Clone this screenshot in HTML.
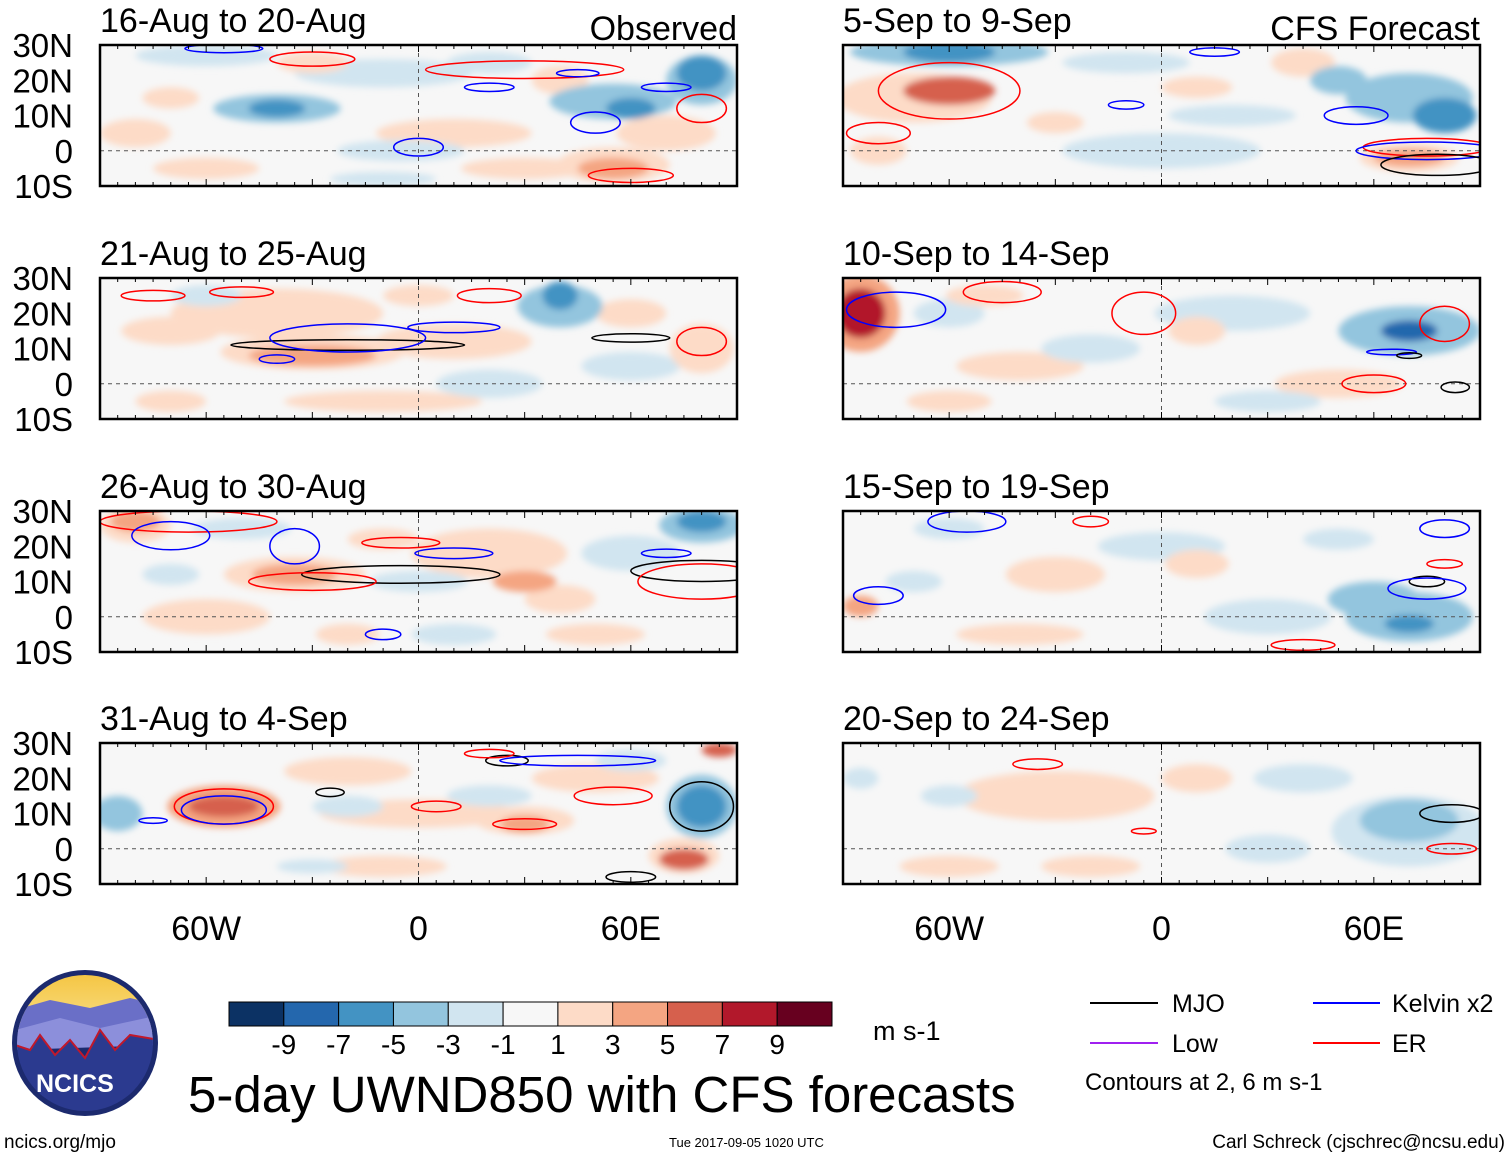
<!DOCTYPE html>
<html><head><meta charset="utf-8"><style>
body{margin:0;background:#fff;}
svg text{font-family:"Liberation Sans",sans-serif;fill:#000;}
</style></head><body>
<svg id="fig" width="1510" height="1158" viewBox="0 0 1510 1158" xmlns="http://www.w3.org/2000/svg">
<defs>
<filter id="soft" x="-50%" y="-50%" width="200%" height="200%"><feGaussianBlur stdDeviation="3.5"/></filter>
<clipPath id="cl"><rect x="0" y="0" width="637" height="141"/></clipPath>
<linearGradient id="sky" x1="0" y1="0" x2="0" y2="1"><stop offset="0" stop-color="#f5c542"/><stop offset="1" stop-color="#f7e08a"/></linearGradient>
</defs>
<g id="panels"></g>
<g id="colorbar"></g>
<text x="873" y="1040" font-size="27">m s-1</text>
<text x="188" y="1112" font-size="51">5-day UWND850 with CFS forecasts</text>
<g>
<line x1="1090" y1="1003" x2="1158" y2="1003" stroke="#000" stroke-width="2"/><text x="1172" y="1012" font-size="25">MJO</text>
<line x1="1313" y1="1003" x2="1380" y2="1003" stroke="#0000ff" stroke-width="2"/><text x="1392" y="1012" font-size="25">Kelvin x2</text>
<line x1="1090" y1="1043" x2="1158" y2="1043" stroke="#a020f0" stroke-width="2"/><text x="1172" y="1052" font-size="25">Low</text>
<line x1="1313" y1="1043" x2="1380" y2="1043" stroke="#ff0000" stroke-width="2"/><text x="1392" y="1052" font-size="25">ER</text>
<text x="1085" y="1090" font-size="24">Contours at 2, 6 m s-1</text>
</g>
<g>
<circle cx="85" cy="1043" r="73" fill="#1c2a6e"/>
<clipPath id="lc"><circle cx="85" cy="1043" r="68"/></clipPath>
<g clip-path="url(#lc)">
<rect x="15" y="973" width="140" height="60" fill="url(#sky)"/>
<path d="M15 1010 L50 1000 L90 1008 L130 998 L160 1005 L160 1030 L15 1035Z" fill="#6a6fc7"/>
<path d="M15 1030 L60 1018 L100 1028 L160 1015 L160 1045 L15 1050Z" fill="#8c8fdb"/>
<path d="M15 1045 L30 1050 L40 1035 L55 1055 L70 1040 L85 1058 L100 1030 L115 1050 L130 1035 L160 1040 L160 1120 L15 1120Z" fill="#2b3a8f" stroke="#c0182b" stroke-width="2"/>
</g>
<text x="36" y="1092" font-size="25" font-weight="bold" style="fill:#fff">NCICS</text>
</g>
<text x="4" y="1148" font-size="19">ncics.org/mjo</text>
<text x="669" y="1147" font-size="13">Tue 2017-09-05 1020 UTC</text>
<text x="1505" y="1148" font-size="19" text-anchor="end">Carl Schreck (cjschrec@ncsu.edu)</text>
</svg>
<script>
const levels=[-9,-7,-5,-3,-1,1,3,5,7,9];
const colors=["#0c3264","#2467ad","#4393c3","#93c5de","#d1e5f0","#f7f7f7","#fddbc7","#f4a582","#d6604d","#b2182b","#67001f"];
const panelTitles=["16-Aug to 20-Aug","21-Aug to 25-Aug","26-Aug to 30-Aug","31-Aug to 4-Sep","5-Sep to 9-Sep","10-Sep to 14-Sep","15-Sep to 19-Sep","20-Sep to 24-Sep"];
const latTicks=[30,20,10,0,-10];
const latLabels=["30N","20N","10N","0","10S"];
const lonTicks=[-60,0,60];
const lonLabels=["60W","0","60E"];
// anomaly blobs per panel: [lon, lat, value, lonRadius, latRadius]
const blobs=[
[[-60,27,-2,20,3],[-10,22,-2,25,4],[-40,12,-5,8,2.5],[-40,12,-3,18,4],[60,12,-5,7,3],[55,14,-3,18,5],[80,22,-5,7,5],[80,20,-3,10,7],[-30,25,3,10,3],[55,-5,4,10,3],[55,-4,2,16,5],[70,5,2,14,5],[-80,5,2,10,4],[10,5,2,22,4],[-5,0,-2,18,3],[30,-5,2,18,3],[-70,15,2,8,3],[20,25,-2,12,3],[40,20,2,8,4],[-10,-8,-2,15,2],[-60,-5,2,15,3]],
[[-40,20,2,30,7],[-30,8,4,18,3],[-30,9,2,26,5],[10,12,2,22,5],[40,25,-5,5,4],[40,22,-3,12,6],[-70,15,2,14,4],[60,5,-2,14,4],[-10,-5,2,28,3],[80,10,2,9,7],[-60,25,-2,10,3],[0,25,2,10,3],[20,0,-2,15,4],[-70,-5,2,10,3],[60,20,2,10,4]],
[[-80,27,5,7,3],[-80,26,3,10,5],[-35,12,5,12,3],[-35,12,3,20,5],[20,18,2,22,7],[30,10,5,9,3],[60,18,-2,14,5],[80,27,-5,7,3],[80,26,-3,12,5],[-20,-5,3,9,3],[-60,0,2,18,5],[50,-5,2,14,3],[-50,25,-2,14,3],[0,10,-2,14,3],[-10,22,3,10,3],[40,5,2,10,4],[10,-5,-2,12,3],[-70,12,-2,8,3]],
[[-55,12,7,10,3],[-55,12,4,16,6],[-20,22,2,18,4],[30,7,5,7,2.5],[30,8,2,14,4],[80,12,-6,7,6],[80,12,-3,10,9],[75,-3,6,7,3],[75,-2,3,10,5],[-85,10,-3,7,5],[0,10,2,28,4],[50,20,2,18,4],[-10,-5,2,18,3],[85,28,7,5,2],[-20,12,-2,10,3],[20,15,-2,12,3],[-30,-5,-2,10,2],[60,25,-2,10,3]],
[[-60,28,-5,13,3],[-60,28,-3,28,4],[-60,17,6,13,4],[-70,15,3,22,7],[80,10,-6,9,5],[70,15,-3,18,7],[70,-2,5,10,2.5],[70,-2,3,14,4],[-10,25,-2,18,3],[20,10,-2,18,3],[0,0,-2,28,5],[40,25,2,9,4],[-30,8,2,8,3],[10,18,2,10,3],[-80,0,2,8,4],[50,20,-3,8,4]],
[[-85,20,8,7,7],[-85,20,4,11,11],[-50,25,3,11,3],[70,15,-7,8,3],[70,15,-3,20,7],[20,20,-2,22,5],[-40,5,2,18,4],[50,0,2,18,4],[-20,10,-2,14,4],[-60,20,-2,10,4],[10,15,2,8,4],[30,-5,-2,15,3],[-60,-5,2,12,3]],
[[-30,12,3,9,3],[-30,12,2,14,5],[-85,3,4,5,3],[60,5,-4,13,5],[70,-2,-6,7,2.5],[70,0,-3,18,7],[0,20,-2,18,4],[-40,-5,2,18,3],[30,0,-2,18,5],[10,15,2,9,4],[-60,25,-2,10,3],[50,22,-2,10,3],[-70,10,-2,8,3]],
[[-30,15,2,28,7],[70,8,-3,14,6],[70,5,-2,22,10],[-85,20,-2,5,3],[-20,-5,2,14,3],[40,20,-2,14,4],[-60,-5,2,14,3],[10,20,2,10,4],[-60,15,-2,8,3],[30,0,-2,12,4]]
];
// contours per panel: [lon, lat, lonRadius, latRadius, type]
const contours=[
[[-30,26,12,2,"ER"],[30,23,28,2.5,"ER"],[80,12,7,4,"ER"],[60,-7,12,2,"ER"],[-55,29,11,1.2,"Kelvin"],[45,22,6,1,"Kelvin"],[50,8,7,3,"Kelvin"],[0,1,7,2.5,"Kelvin"],[70,18,7,1.2,"Kelvin"],[20,18,7,1.2,"Kelvin"]],
[[-20,11,33,1.5,"MJO"],[60,13,11,1.2,"MJO"],[-20,13,22,4,"Kelvin"],[-40,7,5,1.2,"Kelvin"],[-75,25,9,1.5,"ER"],[-50,26,9,1.5,"ER"],[20,25,9,2,"ER"],[80,12,7,4,"ER"],[10,16,13,1.5,"Kelvin"]],
[[-5,12,28,2.5,"MJO"],[80,13,20,3,"MJO"],[-30,10,18,2.5,"ER"],[80,10,18,5,"ER"],[-65,27,25,3,"ER"],[-35,20,7,5,"Kelvin"],[10,18,11,1.5,"Kelvin"],[-70,23,11,4,"Kelvin"],[-5,21,11,1.5,"ER"],[70,18,7,1.2,"Kelvin"],[-10,-5,5,1.5,"Kelvin"]],
[[-55,12,14,5,"ER"],[-55,11,12,4,"Kelvin"],[25,25,6,1.5,"MJO"],[-25,16,4,1.2,"MJO"],[55,15,11,2.5,"ER"],[80,12,9,7,"MJO"],[5,12,7,1.5,"ER"],[30,7,9,1.5,"ER"],[20,27,7,1.2,"ER"],[60,-8,7,1.5,"MJO"],[45,25,22,1.5,"Kelvin"],[-75,8,4,0.8,"Kelvin"]],
[[-60,17,20,8,"ER"],[-80,5,9,3,"ER"],[75,1,18,2.5,"ER"],[75,0,20,2.5,"Kelvin"],[78,-4,16,3,"MJO"],[-10,13,5,1.2,"Kelvin"],[15,28,7,1.2,"Kelvin"],[55,10,9,2.5,"Kelvin"]],
[[-75,21,14,5,"Kelvin"],[-45,26,11,3,"ER"],[-5,20,9,6,"ER"],[60,0,9,2.5,"ER"],[65,9,7,0.8,"Kelvin"],[83,-1,4,1.5,"MJO"],[70,8,3.5,0.8,"MJO"],[80,17,7,5,"ER"]],
[[-55,27,11,3,"Kelvin"],[-20,27,5,1.5,"ER"],[75,10,5,1.5,"MJO"],[75,8,11,3,"Kelvin"],[80,15,5,1.2,"ER"],[80,25,7,2.5,"Kelvin"],[-80,6,7,2.5,"Kelvin"],[40,-8,9,1.5,"ER"]],
[[-35,24,7,1.5,"ER"],[82,10,9,2.5,"MJO"],[82,0,7,1.5,"ER"],[-5,5,3.5,0.8,"ER"]]
];
const ns="http://www.w3.org/2000/svg";
function mk(t,a,p){const e=document.createElementNS(ns,t);for(const k in a)e.setAttribute(k,a[k]);p.appendChild(e);return e;}
function colorFor(v){let i=0;while(i<levels.length&&v>levels[i])i++;return colors[i];}
const lineColors={MJO:"#000",Kelvin:"#0000ff",ER:"#ff0000",Low:"#a020f0"};
const W=637,H=141;
const xs=lon=>(lon+90)/180*W;
const ys=lat=>(30-lat)/40*H;
const root=document.getElementById("panels");
const origins=[[100,45],[100,278],[100,511],[100,743],[843,45],[843,278],[843,511],[843,743]];
origins.forEach((o,p)=>{
  const g=mk("g",{transform:`translate(${o[0]},${o[1]})`},root);
  
  
  mk("rect",{x:0,y:0,width:W,height:H,fill:"#f7f7f7"},g);
  const c=mk("g",{"clip-path":"url(#cl)"},g);
  const f=mk("g",{filter:"url(#soft)"},c);
  blobs[p].slice().sort((a,b)=>Math.abs(a[2])-Math.abs(b[2])).forEach(b=>{
    const e=mk("ellipse",{cx:xs(b[0]),cy:ys(b[1]),rx:b[3]*W/180,ry:b[4]*H/40,fill:colorFor(b[2])},f);
    
    
  });
  mk("line",{x1:0,y1:ys(0),x2:W,y2:ys(0),stroke:"#555","stroke-dasharray":"4,4","stroke-width":1},c);
  mk("line",{x1:xs(0),y1:0,x2:xs(0),y2:H,stroke:"#555","stroke-dasharray":"4,4","stroke-width":1},c);
  contours[p].forEach(k=>{
    const e=mk("ellipse",{cx:xs(k[0]),cy:ys(k[1]),rx:k[2]*W/180,ry:k[3]*H/40,fill:"none",stroke:lineColors[k[4]],"stroke-width":1.5},c);
    
    
  });
  mk("rect",{x:0,y:0,width:W,height:H,fill:"none",stroke:"#000","stroke-width":2.5},g);
  for(let l=-90;l<=90;l+=5){const x=xs(l);const len=l%30===0?7:4;mk("line",{x1:x,y1:0,x2:x,y2:len,stroke:"#000"},g);mk("line",{x1:x,y1:H,x2:x,y2:H-len,stroke:"#000"},g);}
  const t=mk("text",{x:0,y:-13,"font-size":34},g);t.textContent=panelTitles[p];
  
  
  if(p===0){const r=mk("text",{x:W,y:-5,"font-size":34,"text-anchor":"end"},g);r.textContent="Observed";}
  if(p===4){const r=mk("text",{x:W,y:-5,"font-size":34,"text-anchor":"end"},g);r.textContent="CFS Forecast";}
  if(p<4){latTicks.forEach((lt,i)=>{const tx=mk("text",{x:-27,y:ys(lt)+12,"font-size":33,"text-anchor":"end"},g);tx.textContent=latLabels[i];
    
    });}
  if(p===3||p===7){lonTicks.forEach((ln,i)=>{const tx=mk("text",{x:xs(ln),y:H+56,"font-size":34,"text-anchor":"middle"},g);tx.textContent=lonLabels[i];
    
    });}
});
const cb=document.getElementById("colorbar");
const cbx=229,cbw=603/11;
colors.forEach((col,i)=>{const r=mk("rect",{x:cbx+i*cbw,y:1002,width:cbw,height:24,fill:col,stroke:"#000","stroke-width":1},cb);
  
  });
levels.forEach((lv,i)=>{const t=mk("text",{x:cbx+(i+1)*cbw,y:1054,"font-size":28,"text-anchor":"middle"},cb);t.textContent=lv;
  
  });
</script>
</body></html>
